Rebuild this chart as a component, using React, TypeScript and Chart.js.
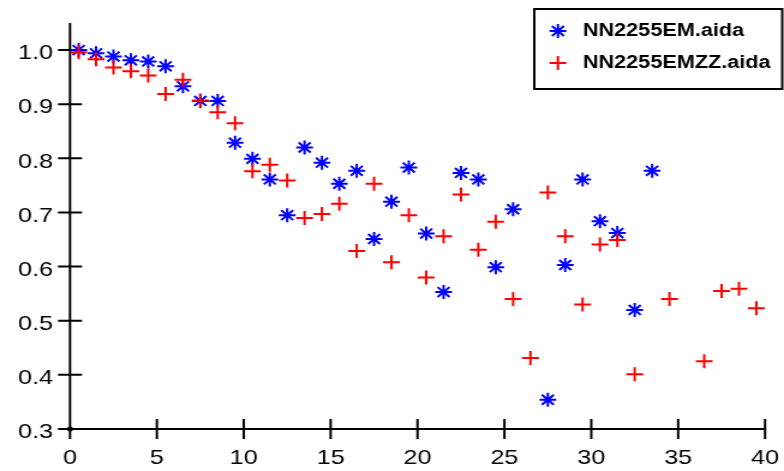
import React, { useEffect, useRef } from 'react';
import { Chart, registerables } from 'chart.js';

Chart.register(...registerables);

const seriesEMLabel = 'NN2255EM.aida';
const seriesZZLabel = 'NN2255EMZZ.aida';

const emX = [0.5, 1.5, 2.5, 3.5, 4.5, 5.5, 6.5, 7.5, 8.5, 9.5, 10.5, 11.5, 12.5, 13.5, 14.5, 15.5, 16.5, 17.5, 18.5, 19.5, 20.5, 21.5, 22.5, 23.5, 24.5, 25.5, 27.5, 28.5, 29.5, 30.5, 31.5, 32.5, 33.5];
const emY = [1.0, 0.994, 0.988, 0.981, 0.979, 0.970, 0.933, 0.906, 0.906, 0.829, 0.799, 0.761, 0.695, 0.820, 0.792, 0.753, 0.777, 0.651, 0.720, 0.783, 0.661, 0.553, 0.773, 0.761, 0.599, 0.706, 0.354, 0.603, 0.761, 0.684, 0.662, 0.520, 0.777];

const zzX = [0.5, 1.5, 2.5, 3.5, 4.5, 5.5, 6.5, 7.5, 8.5, 9.5, 10.5, 11.5, 12.5, 13.5, 14.5, 15.5, 16.5, 17.5, 18.5, 19.5, 20.5, 21.5, 22.5, 23.5, 24.5, 25.5, 26.5, 27.5, 28.5, 29.5, 30.5, 31.5, 32.5, 34.5, 36.5, 37.5, 38.5, 39.5];
const zzY = [0.996, 0.983, 0.968, 0.961, 0.953, 0.919, 0.945, 0.907, 0.885, 0.865, 0.776, 0.788, 0.759, 0.690, 0.697, 0.716, 0.629, 0.753, 0.608, 0.695, 0.580, 0.656, 0.733, 0.631, 0.683, 0.540, 0.431, 0.737, 0.656, 0.530, 0.641, 0.649, 0.401, 0.540, 0.425, 0.555, 0.559, 0.523];

const xTicks = [0, 5, 10, 15, 20, 25, 30, 35, 40];
const yTicks = [0.3, 0.4, 0.5, 0.6, 0.7, 0.8, 0.9, 1.0];
const xMin = 0;
const xMax = 40;
const yMin = 0.3;
const yMax = 1.05;

const W = 653;
const H = 471;
const BLUE = '#0000ff';
const RED = '#ff0000';
const FONT = '"Liberation Sans", Arial, Helvetica, sans-serif';

function drawMarker(ctx: CanvasRenderingContext2D, style: string, cx: number, cy: number, r: number, color: string) {
  ctx.save();
  ctx.strokeStyle = color;
  ctx.lineWidth = 2;
  ctx.beginPath();
  ctx.moveTo(cx - r, cy);
  ctx.lineTo(cx + r, cy);
  ctx.moveTo(cx, cy - r);
  ctx.lineTo(cx, cy + r);
  if (style === 'star') {
    const d = Math.cos(Math.PI / 4) * r;
    ctx.moveTo(cx - d, cy - d);
    ctx.lineTo(cx + d, cy + d);
    ctx.moveTo(cx - d, cy + d);
    ctx.lineTo(cx + d, cy - d);
  }
  ctx.stroke();
  ctx.restore();
}

const axesPlugin = {
  id: 'customAxes',
  beforeDatasetsDraw(chart: any) {
    const { ctx } = chart;
    const xs = chart.scales.x;
    const ys = chart.scales.y;
    const x0 = xs.getPixelForValue(xMin);
    const x1 = xs.getPixelForValue(xMax);
    const y0 = ys.getPixelForValue(yMin);
    const y1 = ys.getPixelForValue(yMax);
    ctx.save();
    ctx.strokeStyle = '#000';
    ctx.lineWidth = 2;
    ctx.beginPath();
    ctx.moveTo(x0, y1);
    ctx.lineTo(x0, y0);
    ctx.lineTo(x1, y0);
    for (const v of yTicks) {
      const py = ys.getPixelForValue(v);
      ctx.moveTo(x0 - 10, py);
      ctx.lineTo(x0 + 10, py);
    }
    for (const v of xTicks) {
      const px = xs.getPixelForValue(v);
      ctx.moveTo(px, y0 - 10);
      ctx.lineTo(px, y0 + 10);
    }
    ctx.stroke();
    ctx.fillStyle = '#000';
    ctx.beginPath();
    ctx.arc(x0, y0, 2.5, 0, Math.PI * 2);
    ctx.fill();
    ctx.restore();
  },
  afterDraw(chart: any) {
    const { ctx } = chart;
    ctx.save();
    ctx.strokeStyle = '#000';
    ctx.lineWidth = 2;
    ctx.strokeRect(445, 9, 206.5, 80);
    drawMarker(ctx, 'star', 464.7, 31, 7, BLUE);
    drawMarker(ctx, 'cross', 464.7, 63, 7, RED);
    ctx.fillStyle = '#000';
    ctx.font = `bold 18px ${FONT}`;
    ctx.textBaseline = 'middle';
    ctx.textAlign = 'left';
    ctx.fillText(seriesEMLabel, 485.6, 31);
    ctx.fillText(seriesZZLabel, 485.6, 63.5);
    ctx.restore();
  },
};

export default function App() {
  const ref = useRef<HTMLCanvasElement | null>(null);

  useEffect(() => {
    if (!ref.current) return;
    const chart = new Chart(ref.current, {
      type: 'scatter',
      data: {
        datasets: [
          {
            label: seriesEMLabel,
            data: emX.map((x, i) => ({ x, y: emY[i] })),
            pointStyle: 'star',
            pointRadius: 7,
            pointBorderWidth: 2,
            borderColor: BLUE,
            backgroundColor: BLUE,
            showLine: false,
            order: 1,
            clip: false,
          } as any,
          {
            label: seriesZZLabel,
            data: zzX.map((x, i) => ({ x, y: zzY[i] })),
            pointStyle: 'cross',
            pointRadius: 7,
            pointBorderWidth: 2,
            borderColor: RED,
            backgroundColor: RED,
            showLine: false,
            order: 0,
            clip: false,
          } as any,
        ],
      },
      options: {
        responsive: false,
        devicePixelRatio: 1,
        animation: false,
        events: [],
        layout: { padding: { top: 23, right: 15.8, left: 0, bottom: 0 } },
        plugins: {
          legend: { display: false },
          tooltip: { enabled: false },
        },
        scales: {
          x: {
            type: 'linear',
            min: xMin,
            max: xMax,
            grid: { display: false, drawTicks: true, tickLength: 17 },
            border: { display: false },
            afterBuildTicks: (scale: any) => {
              scale.ticks = xTicks.map((v) => ({ value: v }));
            },
            afterFit: (scale: any) => {
              scale.height = 42;
            },
            ticks: {
              padding: 0,
              color: '#000',
              font: { family: FONT, size: 21 },
              maxRotation: 0,
              callback: (v: any) => String(v),
            },
          },
          y: {
            type: 'linear',
            min: yMin,
            max: yMax,
            grid: { display: false, drawTicks: true, tickLength: 14 },
            border: { display: false },
            afterBuildTicks: (scale: any) => {
              scale.ticks = yTicks.map((v) => ({ value: v }));
            },
            afterFit: (scale: any) => {
              scale.width = 58.3;
            },
            ticks: {
              padding: 0,
              labelOffset: 3.5,
              color: '#000',
              font: { family: FONT, size: 21 },
              callback: (v: any) => Number(v).toFixed(1),
            },
          },
        },
      },
      plugins: [axesPlugin],
    } as any);
    return () => chart.destroy();
  }, []);

  return (
    <div style={{ position: 'absolute', left: 0, top: 0, width: 784, height: 471, background: '#fff' }}>
      <canvas ref={ref} width={W} height={H} style={{ width: '784px', height: '471px', display: 'block' }} />
    </div>
  );
}
